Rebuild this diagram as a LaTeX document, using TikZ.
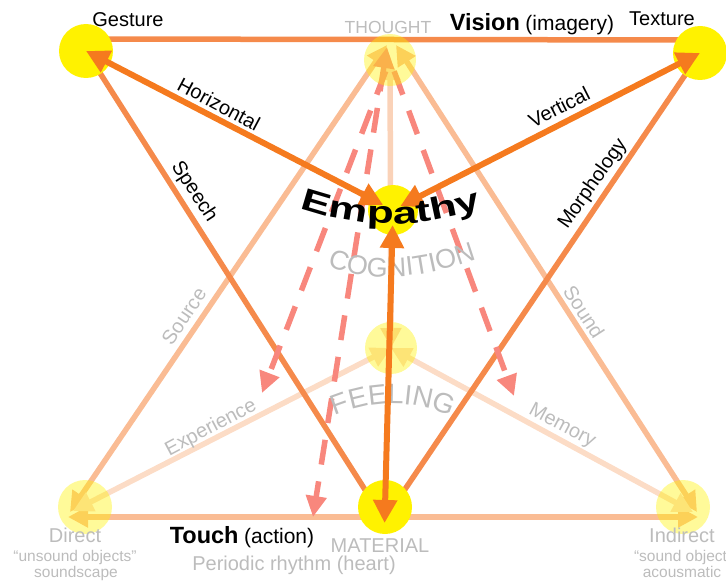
\documentclass[tikz,border=0pt]{standalone}
\usepackage{fontspec}
\setmainfont{Liberation Sans}
\newfontfamily\empfont[FakeStretch=1.42]{Liberation Sans}
\usetikzlibrary{arrows.meta,decorations.text,calc}
\pgfdeclarelayer{lA}\pgfdeclarelayer{lB}\pgfdeclarelayer{lC}\pgfdeclarelayer{lD}\pgfdeclarelayer{lE}
\pgfsetlayers{lA,lB,lC,main,lD,lE}
\definecolor{ylw}{RGB}{255,242,0}
\definecolor{dorange}{RGB}{245,122,30}
\definecolor{morange}{RGB}{245,138,75}
\definecolor{peach}{RGB}{250,188,148}
\definecolor{lpeach}{RGB}{252,220,198}
\definecolor{vpeach}{RGB}{250,210,184}
\definecolor{pinkd}{RGB}{248,135,125}
\definecolor{lgray}{RGB}{188,188,188}
\begin{document}
\begin{tikzpicture}[x=1pt,y=-1pt,
  hub/.style={circle,fill=ylw,minimum size=54pt,inner sep=0pt},
  fhub/.style={circle,fill=ylw,fill opacity=0.4,minimum size=52pt,inner sep=0pt},
  darr/.style={line width=6pt,draw=dorange,{Triangle[length=23pt,width=23pt]}-{Triangle[length=23pt,width=23pt]}},
  mline/.style={line width=5.5pt,draw=morange},
  pline/.style={line width=5.5pt,draw=peach,{Triangle[length=20pt,width=20pt]}-{Triangle[length=20pt,width=20pt]}},
  lline/.style={line width=5.5pt,draw=lpeach,{Triangle[length=20pt,width=20pt]}-{Triangle[length=20pt,width=20pt]}},
  dasharr/.style={line width=5.5pt,draw=pinkd,dash pattern=on 25pt off 17pt,-{Triangle[length=21pt,width=20pt]}},
  lbl/.style={font=\fontsize{20}{20}\selectfont,text=black,inner sep=0pt},
  glbl/.style={lbl,text=lgray},
  small/.style={glbl,font=\fontsize{15.5}{15.5}\selectfont}
]
\useasboundingbox (0,0) rectangle (726,583);

% hubs
\node[hub] (G) at (86,51) {};
\node[hub] (X) at (700,53) {};
\node[hub,minimum size=50pt] (E) at (393,210) {};
\node[hub] (M) at (385,507) {};
\node[fhub] (T) at (390,60) {};
\node[fhub] (F) at (391,348) {};
\node[fhub,minimum size=54pt] (D) at (85,507) {};
\node[fhub,minimum size=54pt] (I) at (683,507) {};

\coordinate (expT) at (262,393);
\coordinate (rhyT) at (313,517);
\coordinate (memT) at (514,396);

\begin{pgfonlayer}{lA}
\draw[pline] ($(T.center)+(-3,-15)$) -- ($(D.center)+(-15,5)$);
\draw[pline] ($(T.center)+(6,-15)$) -- ($(I.center)+(14,5)$);
\draw[pline] ($(D.center)+(-17,10)$) -- ($(I.center)+(15,10)$);
\draw[lline,draw=vpeach] (T.center) -- (F.center);
\draw[lline] (F.center) -- ($(D.center)+(-12,4)$);
\draw[lline] (F.center) -- ($(I.center)+(10,5)$);
\end{pgfonlayer}

\begin{pgfonlayer}{lB}
\draw[mline] ($(G.center)+(0,-12)$) -- ($(X.center)+(0,-13)$);
\draw[mline] (G.center) -- ($(M.center)+(-9,0)$);
\draw[mline] (X.center) -- ($(M.center)+(8,0)$);
\end{pgfonlayer}

\begin{pgfonlayer}{lC}
\draw[dasharr,shorten <=12pt] (T.center) -- (expT);
\draw[dasharr,{Triangle[length=21pt,width=20pt]}-{Triangle[length=21pt,width=20pt]}] ($(T.center)+(-3,-13)$) -- (rhyT);
\draw[dasharr,shorten <=12pt] (T.center) -- (memT);
\path[decorate,decoration={text along path,text align=center,text format delimiters={|}{|},
  text={|\color{lgray}\fontsize{27}{27}\selectfont|COGNITION}}]
  (324,265) .. controls (366.3,282.7) and (418,280.7) .. (480,258);
\path[decorate,decoration={text along path,text align=center,text format delimiters={|}{|},
  text={|\color{lgray}\fontsize{28}{28}\selectfont|FEELING}}]
  (326,420) .. controls (372.7,398) and (416.7,398.3) .. (460,421);
\end{pgfonlayer}

\begin{pgfonlayer}{lD}
\draw[darr,shorten <=11pt] (E.center) -- (G.center);
\draw[darr,shorten <=8pt] (E.center) -- (X.center);
\draw[darr,shorten <=15pt,shorten >=-16pt] (E.center) -- (M.center);
\end{pgfonlayer}

\begin{pgfonlayer}{lE}
\path[decorate,decoration={text along path,text align=center,text format delimiters={|}{|},
  text={|\empfont\bfseries\fontsize{31}{31}\selectfont|Empathy}}]
  (295,206) .. controls (359.7,229.7) and (422.3,229.7) .. (487,206);
\node[lbl,anchor=base] (gestureL) at (128,27) {Gesture};
\node[lbl,anchor=base] (textureL) at (662,26) {Texture};
\node[glbl,font=\fontsize{17.5}{17.5}\selectfont,anchor=base] (thoughtL) at (388,34) {THOUGHT};
\node[lbl,anchor=base] (visionL) at (532,31) {{\fontsize{23.5}{23.5}\selectfont\bfseries Vision} {\fontsize{21}{21}\selectfont(imagery)}};
\node[lbl,anchor=base] (touchL) at (242,543) {{\fontsize{23.5}{23.5}\selectfont\bfseries Touch} {\fontsize{21}{21}\selectfont(action)}};
\node[glbl,anchor=base] (materialL) at (380,552) {MATERIAL};
\node[glbl,anchor=base] (rhythmL) at (294,570) {Periodic rhythm (heart)};
\node[glbl,anchor=base] (directL) at (75,542) {Direct};
\node[small,anchor=base] (directL2) at (75,561) {“unsound objects”};
\node[small,anchor=base] (directL3) at (76,577) {soundscape};
\node[glbl,anchor=base] (indirectL) at (682,542) {Indirect};
\node[small,anchor=base] (indirectL2) at (687,561) {“sound objects”};
\node[small,anchor=base] (indirectL3) at (682,577) {acousmatic};
\node[lbl,rotate=-28] (horL) at (219,104) {Horizontal};
\node[lbl,rotate=27] (verL) at (559,107) {Vertical};
\node[lbl,rotate=-57] (speL) at (194,192) {Speech};
\node[lbl,rotate=55] (morL) at (593,184) {Morphology};
\node[glbl,rotate=56] (souL) at (184,316) {Source};
\node[glbl,rotate=-57] (sndL) at (584,312) {Sound};
\node[glbl,rotate=28] (expL) at (211,428) {Experience};
\node[glbl,rotate=-28] (memL) at (562,426) {Memory};
\end{pgfonlayer}
\end{tikzpicture}
\end{document}
